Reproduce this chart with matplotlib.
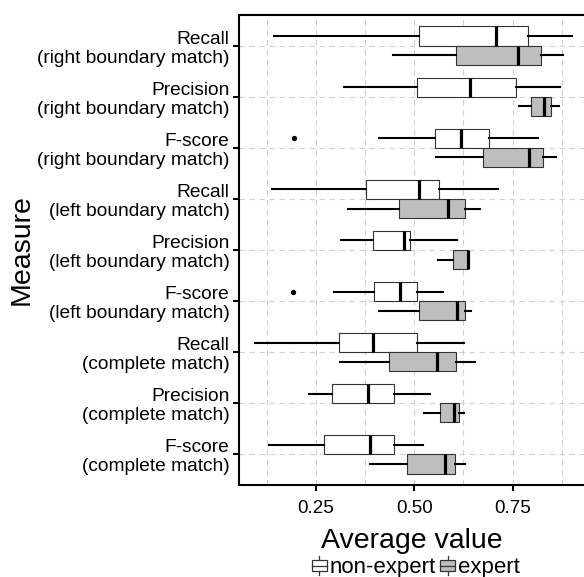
import numpy as np
import matplotlib.pyplot as plt
from matplotlib.legend_handler import HandlerBase
from matplotlib.patches import Rectangle
from matplotlib.lines import Line2D

plt.rcParams['font.family'] = ['Liberation Sans', 'DejaVu Sans']

# categories, top to bottom
measures = ['Recall\n(right boundary match)', 'Precision\n(right boundary match)',
            'F-score\n(right boundary match)', 'Recall\n(left boundary match)',
            'Precision\n(left boundary match)', 'F-score\n(left boundary match)',
            'Recall\n(complete match)', 'Precision\n(complete match)',
            'F-score\n(complete match)']
groups = ['non-expert', 'expert']

# box summaries
nonexp_whislo = [0.144, 0.322, 0.411, 0.139, 0.314, 0.297, 0.096, 0.232, 0.131]
nonexp_q1     = [0.513, 0.508, 0.553, 0.377, 0.395, 0.398, 0.309, 0.291, 0.270]
nonexp_med    = [0.709, 0.641, 0.620, 0.511, 0.474, 0.465, 0.396, 0.383, 0.388]
nonexp_q3     = [0.790, 0.758, 0.690, 0.563, 0.488, 0.507, 0.508, 0.449, 0.448]
nonexp_whishi = [0.901, 0.871, 0.814, 0.712, 0.609, 0.572, 0.626, 0.539, 0.522]
nonexp_fliers = [[], [], [0.193], [], [], [0.191], [], [], []]

exp_whislo = [0.447, 0.767, 0.556, 0.332, 0.561, 0.411, 0.312, 0.526, 0.388]
exp_q1     = [0.606, 0.797, 0.675, 0.460, 0.598, 0.511, 0.435, 0.565, 0.482]
exp_med    = [0.765, 0.829, 0.793, 0.587, 0.638, 0.610, 0.557, 0.601, 0.577]
exp_q3     = [0.822, 0.849, 0.828, 0.628, 0.638, 0.628, 0.606, 0.614, 0.604]
exp_whishi = [0.878, 0.868, 0.860, 0.668, 0.638, 0.644, 0.654, 0.626, 0.629]
exp_fliers = [[], [], [], [], [], [], [], [], []]

colors = {'non-expert': 'white', 'expert': '#bebebe'}


def make_stats(lo, q1, med, q3, hi, fl):
    return [dict(whislo=a, q1=b, med=c, q3=d, whishi=e, fliers=f)
            for a, b, c, d, e, f in zip(lo, q1, med, q3, hi, fl)]


fig = plt.figure(figsize=(5.84, 5.77), dpi=100)
ax = fig.add_axes([0.4098, 0.1594, 0.5903, 0.8146])

n = len(measures)
pos = np.arange(n, 0, -1)
w = 0.375

series = [(make_stats(nonexp_whislo, nonexp_q1, nonexp_med, nonexp_q3, nonexp_whishi, nonexp_fliers),
           pos + w / 2, colors['non-expert']),
          (make_stats(exp_whislo, exp_q1, exp_med, exp_q3, exp_whishi, exp_fliers),
           pos - w / 2, colors['expert'])]

for stats, p, fc in series:
    ax.bxp(stats, positions=p, widths=w, orientation='horizontal',
           patch_artist=True, showcaps=False,
           boxprops=dict(facecolor=fc, edgecolor='#333333', linewidth=0.8),
           medianprops=dict(color='black', linewidth=2.3, solid_capstyle='butt'),
           whiskerprops=dict(color='black', linewidth=1.5),
           flierprops=dict(marker='o', markersize=2.8, markerfacecolor='black',
                           markeredgecolor='black'),
           zorder=3)

ax.set_xlim(0.055, 0.932)
ax.set_ylim(0.4, n + 0.6)
ax.set_yticks(pos)
ax.set_yticklabels(measures, fontsize=13.8, linespacing=1.15)
ax.set_xticks([0.25, 0.5, 0.75])
ax.set_xticklabels(['0.25', '0.50', '0.75'], fontsize=13.5)
ax.set_xticks([0.125, 0.375, 0.625, 0.875], minor=True)
ax.tick_params(which='major', length=4, width=1.5, color='black', pad=3, labelcolor='black')
ax.tick_params(axis='x', which='major', pad=7)
ax.tick_params(which='minor', length=0)
ax.grid(which='both', axis='x', linestyle=(0, (5, 4)), color='#d0d0d0', linewidth=0.8, zorder=0)
ax.grid(which='major', axis='y', linestyle=(0, (5, 4)), color='#d0d0d0', linewidth=0.8, zorder=0)
ax.set_axisbelow(True)

for s in ['left', 'bottom', 'top']:
    ax.spines[s].set_linewidth(1.5)
    ax.spines[s].set_color('black')
ax.spines['right'].set_visible(False)

ax.set_xlabel('Average value', fontsize=20.5, labelpad=8)
ax.set_ylabel('Measure', fontsize=20.5, labelpad=2)


class BoxHandler(HandlerBase):
    def create_artists(self, legend, orig, xdescent, ydescent, width, height, fontsize, trans):
        fc = orig.get_facecolor()
        cx = width / 2 - xdescent
        bw = width
        art = [Line2D([cx, cx], [-ydescent, height - ydescent], color='#333333', lw=0.9),
               Rectangle((cx - bw / 2, height * 0.2 - ydescent), bw, height * 0.6,
                         facecolor=fc, edgecolor='#333333', lw=0.9),
               Line2D([cx - bw / 2, cx + bw / 2], [height * 0.5 - ydescent] * 2,
                      color='#333333', lw=0.9)]
        for a in art:
            a.set_transform(trans)
        return art


handles = [Rectangle((0, 0), 1, 1, facecolor=colors[g]) for g in groups]
fig.legend(handles, groups, loc='center', bbox_to_anchor=(0.712, 0.017), ncol=2,
           frameon=False, fontsize=16, handler_map={Rectangle: BoxHandler()},
           handlelength=0.66, handleheight=0.95, handletextpad=0.12, columnspacing=0.22,
           borderpad=0)

fig.savefig('out.png', dpi=100)
